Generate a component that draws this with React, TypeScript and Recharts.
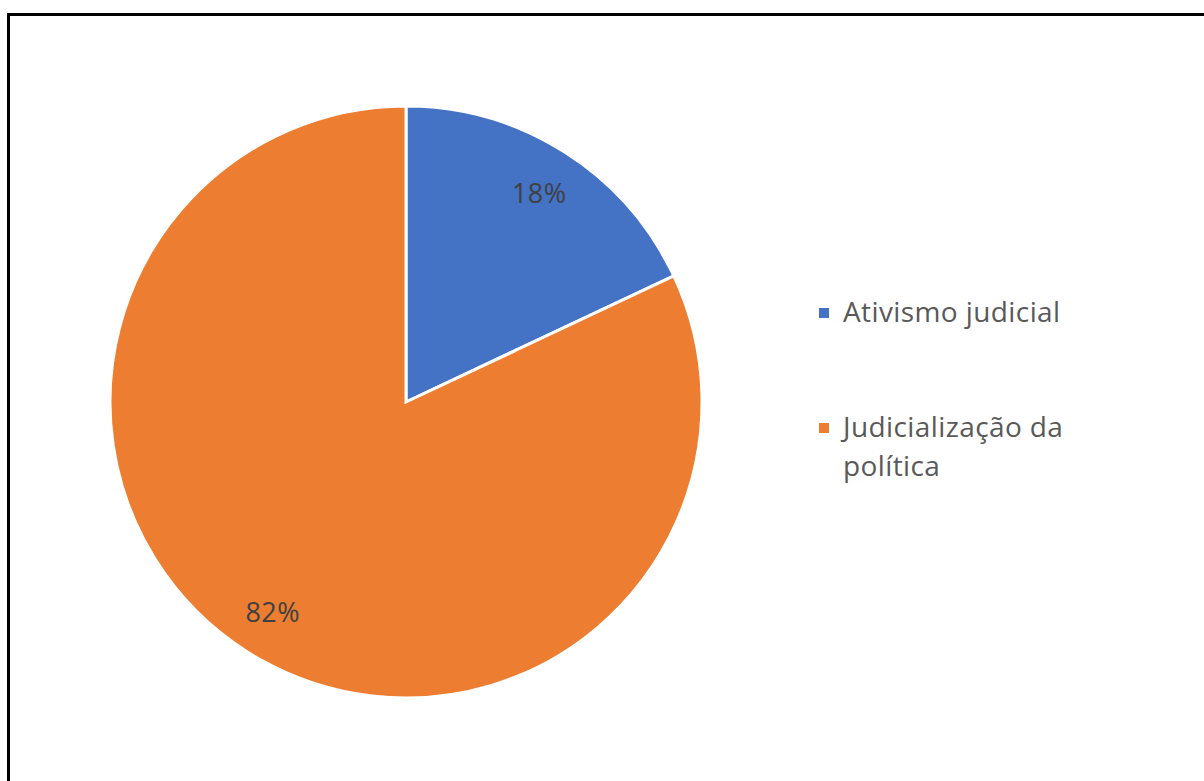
import React from "react";
import { PieChart, Pie, Cell } from "recharts";

const categories = ["Ativismo judicial", "Judicialização da política"];
const values = [18, 82];
const legendLines = [["Ativismo judicial"], ["Judicialização da", "política"]];
const colors = ["#4472C4", "#ED7D31"];

const data = categories.map((name, i) => ({ name, value: values[i] }));

const RADIAN = Math.PI / 180;

const renderLabel = (props: any) => {
  const { cx, cy, midAngle, outerRadius, percent } = props;
  const r = outerRadius * 0.84;
  const x = cx + r * Math.cos(-midAngle * RADIAN);
  const y = cy + r * Math.sin(-midAngle * RADIAN);
  return (
    <text
      x={x}
      y={y}
      fill="#404040"
      fontFamily="'Open Sans', sans-serif"
      fontSize={27}
      letterSpacing={0.5}
      textAnchor="middle"
      dominantBaseline="central"
    >
      {`${Math.round(percent * 100)}%`}
    </text>
  );
};

function HtmlLegend() {
  return (
    <div
      style={{
        position: "absolute",
        left: 809,
        top: 276,
        fontFamily: "'Open Sans', sans-serif",
        fontSize: 28,
        letterSpacing: 0.4,
        color: "#595959",
      }}
    >
      {categories.map((c, i) => (
        <div key={c} style={{ display: "flex", alignItems: "flex-start", marginBottom: i === 0 ? 76 : 0 }}>
          <div
            style={{
              width: 10,
              height: 10,
              background: colors[i],
              marginTop: 16,
              marginRight: 14,
              flexShrink: 0,
            }}
          />
          <div style={{ lineHeight: "39px" }}>
            {legendLines[i].map((l, j) => (
              <div key={j}>{l}</div>
            ))}
          </div>
        </div>
      ))}
    </div>
  );
}

export default function App() {
  return (
    <div
      style={{
        position: "fixed",
        left: 7,
        top: 13,
        width: 1197,
        height: 768,
        borderTop: "3px solid #000",
        borderLeft: "3px solid #000",
        boxSizing: "border-box",
        background: "#fff",
      }}
    >
      <PieChart width={1190} height={765} margin={{ top: 0, right: 0, bottom: 0, left: 0 }}>
        <Pie
          data={data}
          dataKey="value"
          nameKey="name"
          cx={396}
          cy={386}
          outerRadius={296}
          startAngle={90}
          endAngle={-270}
          stroke="#fff"
          strokeWidth={3}
          label={renderLabel}
          labelLine={false}
          isAnimationActive={false}
        >
          {data.map((d, i) => (
            <Cell key={d.name} fill={colors[i]} />
          ))}
        </Pie>
      </PieChart>
      <HtmlLegend />
    </div>
  );
}
